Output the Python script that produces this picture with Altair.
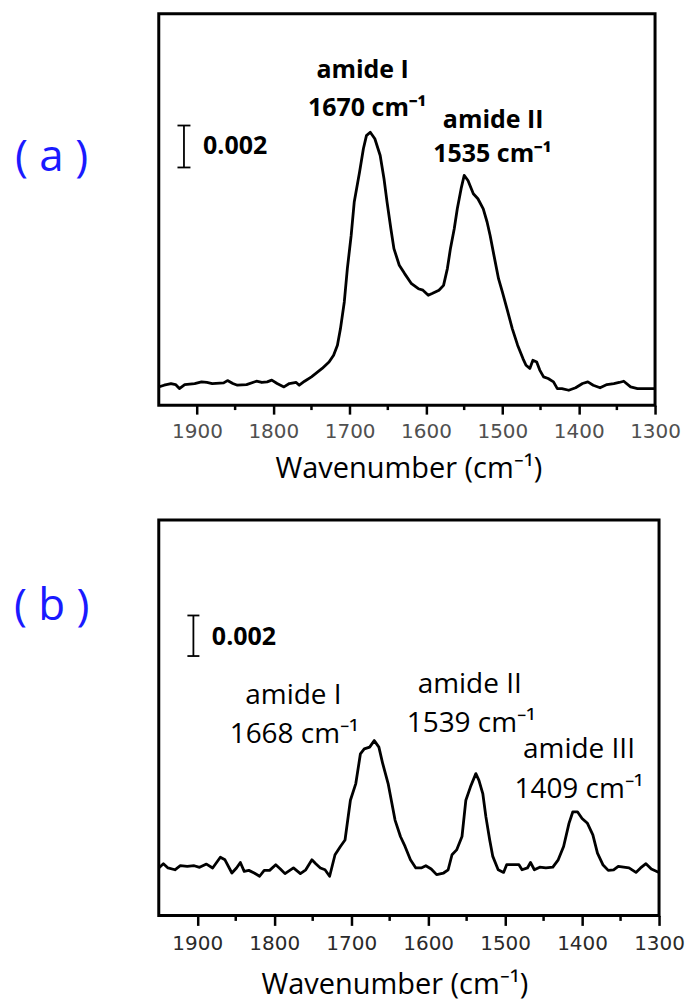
import altair as alt
import pandas as pd

# ---------------- data ----------------
wn_a = [1950, 1943, 1934, 1928, 1923, 1916, 1903, 1894, 1887, 1880, 1865, 1860, 1853, 1847, 1835,
        1822, 1815, 1808, 1802, 1795, 1786, 1779, 1770, 1766, 1759, 1750, 1736, 1727, 1721, 1716,
        1712, 1707, 1703, 1698, 1694, 1687, 1682, 1678, 1673, 1667, 1660, 1655, 1651, 1646, 1642,
        1635, 1628, 1619, 1610, 1604, 1597, 1592, 1583, 1577, 1572, 1568, 1563, 1559, 1554, 1550,
        1545, 1538, 1532, 1525, 1520, 1516, 1511, 1505, 1500, 1494, 1487, 1480, 1473, 1469, 1464,
        1460, 1455, 1451, 1446, 1440, 1433, 1428, 1422, 1413, 1404, 1395, 1388, 1381, 1372, 1363,
        1354, 1347, 1341, 1332, 1323, 1300]
abs_a = [0.00087, 0.00095, 0.00103, 0.00098, 0.00079, 0.00098, 0.00103, 0.00111, 0.00108, 0.00103,
         0.00106, 0.00117, 0.00103, 0.00095, 0.00098, 0.00114, 0.00108, 0.00111, 0.00119, 0.00103,
         0.00087, 0.00103, 0.00108, 0.00095, 0.00114, 0.00135, 0.00175, 0.00206, 0.00238, 0.00286,
         0.00365, 0.00492, 0.00651, 0.00809, 0.00968, 0.01111, 0.01222, 0.01285, 0.01301, 0.01270,
         0.01190, 0.01079, 0.00968, 0.00841, 0.00746, 0.00667, 0.00627, 0.00579, 0.00555, 0.00548,
         0.00524, 0.00532, 0.00548, 0.00571, 0.00651, 0.00746, 0.00841, 0.00936, 0.01032, 0.01095,
         0.01071, 0.01008, 0.00984, 0.00936, 0.00873, 0.00809, 0.00714, 0.00603, 0.00540, 0.00460,
         0.00365, 0.00286, 0.00222, 0.00190, 0.00175, 0.00214, 0.00206, 0.00167, 0.00135, 0.00127,
         0.00111, 0.00079, 0.00079, 0.00071, 0.00083, 0.00103, 0.00111, 0.00095, 0.00083, 0.00098,
         0.00103, 0.00108, 0.00114, 0.00087, 0.00079, 0.00079]

wn_b = [1950, 1944, 1938, 1929, 1922, 1913, 1904, 1897, 1888, 1880, 1870, 1864, 1855, 1849, 1844,
        1839, 1833, 1826, 1819, 1813, 1806, 1798, 1792, 1786, 1775, 1766, 1759, 1751, 1746, 1740,
        1734, 1728, 1721, 1714, 1708, 1701, 1694, 1688, 1683, 1676, 1670, 1664, 1659, 1652, 1643,
        1636, 1630, 1623, 1616, 1609, 1603, 1596, 1589, 1580, 1574, 1569, 1563, 1556, 1551, 1545,
        1538, 1534, 1529, 1525, 1520, 1516, 1509, 1502, 1498, 1489, 1482, 1478, 1471, 1467, 1462,
        1455, 1447, 1438, 1431, 1424, 1417, 1412, 1406, 1400, 1393, 1386, 1380, 1373, 1366, 1359,
        1353, 1346, 1339, 1330, 1324, 1317, 1310, 1300]
abs_b = [0.00234, 0.00255, 0.00234, 0.00225, 0.00245, 0.00242, 0.00245, 0.00237, 0.00253, 0.00234,
         0.00287, 0.00274, 0.00209, 0.00234, 0.00261, 0.00217, 0.00222, 0.00209, 0.00193, 0.00222,
         0.00222, 0.00250, 0.00229, 0.00206, 0.00234, 0.00206, 0.00225, 0.00274, 0.00255, 0.00234,
         0.00225, 0.00193, 0.00299, 0.00340, 0.00372, 0.00568, 0.00650, 0.00797, 0.00821, 0.00830,
         0.00862, 0.00830, 0.00748, 0.00650, 0.00470, 0.00389, 0.00340, 0.00274, 0.00234, 0.00234,
         0.00245, 0.00229, 0.00201, 0.00209, 0.00225, 0.00299, 0.00323, 0.00389, 0.00568, 0.00634,
         0.00699, 0.00666, 0.00601, 0.00487, 0.00372, 0.00291, 0.00225, 0.00212, 0.00250, 0.00250,
         0.00250, 0.00225, 0.00234, 0.00261, 0.00225, 0.00238, 0.00234, 0.00238, 0.00274, 0.00340,
         0.00454, 0.00511, 0.00511, 0.00478, 0.00454, 0.00397, 0.00307, 0.00250, 0.00222, 0.00225,
         0.00242, 0.00238, 0.00234, 0.00212, 0.00234, 0.00255, 0.00229, 0.00212]

major_ticks = [1900, 1800, 1700, 1600, 1500, 1400, 1300]
minor_ticks = [1850, 1750, 1650, 1550, 1450, 1350]

# peak annotations (text, wavenumber anchor, absorbance anchor)
ann_a_text = ["amide I", "1670 cm\u207b\u00b9", "amide II", "1535 cm\u207b\u00b9"]
ann_a_wn = [1683, 1677, 1512, 1513]
ann_a_abs = [0.01558, 0.01377, 0.01320, 0.01158]

ann_b_text = ["amide I", "1668 cm\u207b\u00b9", "amide II", "1539 cm\u207b\u00b9",
              "amide III", "1409 cm\u207b\u00b9"]
ann_b_wn = [1775, 1774, 1546, 1544, 1404, 1404]
ann_b_abs = [0.01044, 0.00848, 0.01098, 0.00902, 0.00774, 0.00578]

# scale bar (0.002 absorbance units)
bar_a = dict(wn=1917, lo=0.01133, cap=8.5, label_wn=1892, label_abs=0.01196)
bar_b = dict(wn=1905, lo=0.01279, cap=7.8, label_wn=1881, label_abs=0.01333)
BAR = 0.002

FONT = "Open Sans"
AXIS_TITLE = "Wavenumber (cm\u207b\u00b9)"


def panel(wn, ab, ydom, w, h, ann_text, ann_wn, ann_abs, ann_bold, ann_size,
          bar, tag, tag_x, tag_y, title_y, title_dx, tick_size, label_pad, label_color):
    xs = alt.Scale(domain=[1300, 1950], reverse=True, nice=False, zero=False)
    ys = alt.Scale(domain=ydom, nice=False, zero=False)
    x_axis = alt.Axis(values=major_ticks, format="d", domain=False, grid=False,
                      ticks=True, tickSize=tick_size, tickWidth=2.5, tickColor="black",
                      labelFont="DejaVu Sans", labelFontSize=20, labelColor=label_color,
                      labelPadding=label_pad, labelFlush=False, labelOverlap=False, title=None)
    X = alt.X("wn:Q", scale=xs, axis=x_axis)
    Y = alt.Y("A:Q", scale=ys, axis=None)

    spec = pd.DataFrame({"wn": wn, "A": ab})
    line = alt.Chart(spec).mark_line(color="black", strokeWidth=2.8,
                                     strokeJoin="round").encode(x=X, y=Y)

    minor = alt.Chart(pd.DataFrame({"wn": minor_ticks})).mark_rule(
        color="black", strokeWidth=2.5).encode(
        x=X, y=alt.value(h), y2=alt.value(h + tick_size * 0.55))

    bar_v = alt.Chart(pd.DataFrame({"wn": [bar["wn"]], "A": [bar["lo"]],
                                    "A2": [bar["lo"] + BAR]})).mark_rule(
        color="black", strokeWidth=1.8).encode(x=X, y=Y, y2="A2:Q")
    bar_c = alt.Chart(pd.DataFrame({"wn": [bar["wn"] + bar["cap"]] * 2,
                                    "wn2": [bar["wn"] - bar["cap"]] * 2,
                                    "A": [bar["lo"], bar["lo"] + BAR]})).mark_rule(
        color="black", strokeWidth=1.8).encode(x=X, x2="wn2:Q", y=Y)
    bar_t = alt.Chart(pd.DataFrame({"wn": [bar["label_wn"]], "A": [bar["label_abs"]],
                                    "t": ["0.002"]})).mark_text(
        font=FONT, fontSize=25, fontWeight="bold", align="left",
        baseline="alphabetic", color="black").encode(x=X, y=Y, text="t:N")

    ann = alt.Chart(pd.DataFrame({"wn": ann_wn, "A": ann_abs, "t": ann_text})).mark_text(
        font=FONT, fontSize=ann_size, fontWeight="bold" if ann_bold else "normal",
        align="center", baseline="alphabetic", color="black").encode(x=X, y=Y, text="t:N")

    title = alt.Chart(pd.DataFrame({"t": [AXIS_TITLE]})).mark_text(
        font=FONT, fontSize=29, align="center", baseline="alphabetic",
        color="black").encode(x=alt.value(w / 2 + title_dx), y=alt.value(title_y),
                              text="t:N")

    tag_m = alt.Chart(pd.DataFrame({"t": [tag]})).mark_text(
        font=FONT, fontSize=44, align="left", baseline="middle",
        color="#1a1aff").encode(x=alt.value(tag_x), y=alt.value(tag_y), text="t:N")

    return alt.layer(line, minor, bar_v, bar_c, bar_t, ann, title, tag_m).properties(
        width=w, height=h)


pa = panel(wn_a, abs_a, [0, 0.01866], 497, 392, ann_a_text, ann_a_wn, ann_a_abs, True, 25,
           bar_a, "( a )", -144, 145, 465, 2, 9, 7, "#505050")
pb = panel(wn_b, abs_b, [0, 0.0195], 501, 396, ann_b_text, ann_b_wn, ann_b_abs, False, 28,
           bar_b, "( b )", -145, 87, 475, -14, 10, 8, "#2a2a2a")

chart = alt.vconcat(pa, pb, spacing=32).properties(
    padding={"left": 12, "top": 11, "right": 0, "bottom": 0},
    background="white",
).configure_view(stroke="black", strokeWidth=3)

chart.save("out.html", embed_options={"renderer": "svg", "actions": False})
